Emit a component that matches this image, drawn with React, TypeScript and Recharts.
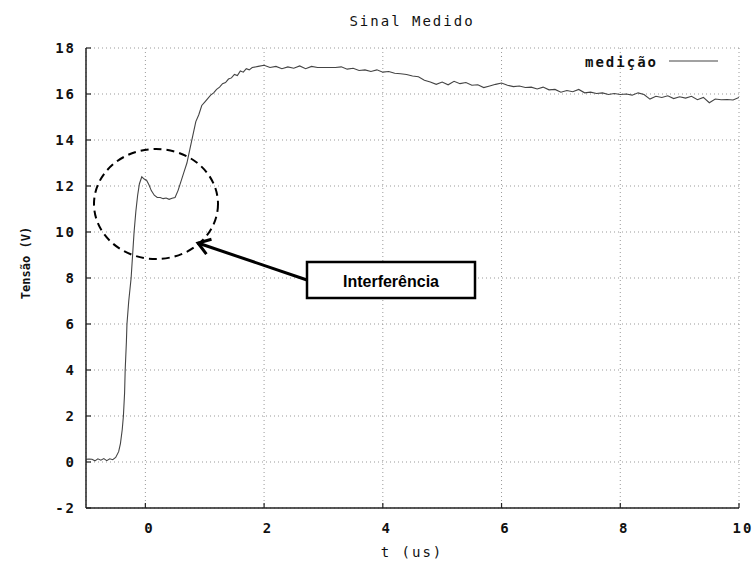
import { LineChart, Line, XAxis, YAxis, CartesianGrid } from 'recharts'

const times = [
  -1.0, -0.95, -0.9, -0.85, -0.8, -0.75, -0.7, -0.65, -0.6, -0.55, -0.5, -0.45,
  -0.42, -0.39, -0.37, -0.35, -0.34, -0.32, -0.31, -0.28, -0.24, -0.21, -0.19, -0.16,
  -0.13, -0.1, -0.06, -0.02, 0.02, 0.06, 0.1, 0.15, 0.2, 0.25, 0.3, 0.35, 0.4, 0.45,
  0.5, 0.55, 0.6, 0.65, 0.7, 0.75, 0.8, 0.85, 0.9, 0.95, 1.0, 1.05, 1.1, 1.15, 1.2,
  1.25, 1.3, 1.35, 1.4, 1.45, 1.5, 1.55, 1.6, 1.65, 1.7, 1.75, 1.8, 1.9, 2.0,
  2.1, 2.2, 2.3, 2.4, 2.5, 2.6, 2.7, 2.8, 2.9, 3.0, 3.1, 3.2, 3.3, 3.4, 3.5, 3.6,
  3.7, 3.8, 3.9, 4.0, 4.1, 4.2, 4.3, 4.4, 4.5, 4.6, 4.7, 4.8, 4.9, 5.0, 5.1, 5.2,
  5.3, 5.4, 5.5, 5.6, 5.7, 5.8, 5.9, 6.0, 6.1, 6.2, 6.3, 6.4, 6.5, 6.6, 6.7, 6.8,
  6.9, 7.0, 7.1, 7.2, 7.3, 7.4, 7.5, 7.6, 7.7, 7.8, 7.9, 8.0, 8.1, 8.2, 8.3, 8.4,
  8.5, 8.6, 8.7, 8.8, 8.9, 9.0, 9.1, 9.2, 9.3, 9.4, 9.5, 9.6, 9.7, 9.8, 9.9, 10.0,
]

const volts = [
  0.12, 0.13, 0.12, 0.05, 0.14, 0.08, 0.15, 0.06, 0.14, 0.1, 0.2, 0.45,
  0.8, 1.4, 2.0, 3.0, 4.0, 5.2, 6.0, 7.0, 8.0, 9.2, 10.0, 10.9,
  11.6, 12.1, 12.4, 12.3, 12.25, 12.05, 11.8, 11.6, 11.5, 11.5, 11.45, 11.48, 11.42, 11.47,
  11.5, 11.8, 12.2, 12.6, 13.0, 13.6, 14.2, 14.8, 15.1, 15.5, 15.65, 15.8, 15.95, 16.05, 16.2,
  16.3, 16.45, 16.5, 16.65, 16.7, 16.85, 16.8, 17.0, 16.95, 17.1, 17.05, 17.15, 17.2, 17.25,
  17.15, 17.2, 17.1, 17.18, 17.12, 17.22, 17.1, 17.2, 17.15, 17.15, 17.15, 17.15, 17.18, 17.08, 17.12, 17.02,
  17.05, 16.98, 17.05, 16.95, 16.98, 16.9, 16.88, 16.85, 16.78, 16.75, 16.6, 16.52, 16.42, 16.52, 16.4, 16.55,
  16.45, 16.5, 16.38, 16.4, 16.28, 16.35, 16.42, 16.48, 16.38, 16.32, 16.35, 16.28, 16.3, 16.22, 16.3, 16.18,
  16.2, 16.08, 16.15, 16.1, 16.2, 16.05, 16.08, 16.02, 16.05, 15.98, 16.02, 15.98, 16.0, 15.95, 16.05, 15.98,
  15.78, 15.9, 15.85, 15.92, 15.8, 15.88, 15.82, 15.9, 15.75, 15.85, 15.62, 15.78, 15.75, 15.76, 15.74, 15.85,
]

const xTicks = [-1, 0, 2, 4, 6, 8, 10]
const yTicks = [-2, 0, 2, 4, 6, 8, 10, 12, 14, 16, 18]

const data = times.map((t, i) => ({ t, v: volts[i] }))

const mono = '"DejaVu Sans Mono", monospace'
const ink = '#222'

const LeftTick = ({ x, y, payload }: any) => (
  <g>
    <line x1={x} y1={y} x2={x + 5} y2={y} stroke={ink} strokeWidth={1.2} />
    <text x={x - 10} y={y + 5} textAnchor="end" fontFamily={mono} fontSize={14} fontWeight="bold" letterSpacing={2} fill="#111">
      {payload.value}
    </text>
  </g>
)

const RightTick = ({ x, y }: any) => (
  <line x1={x} y1={y} x2={x - 5} y2={y} stroke={ink} strokeWidth={1.2} />
)

const BottomTick = ({ x, y, payload }: any) =>
  payload.value === -1 ? null : (
    <g>
      <line x1={x} y1={y} x2={x} y2={y - 5} stroke={ink} strokeWidth={1.2} />
      <text x={x + 4} y={y + 25} textAnchor="middle" fontFamily={mono} fontSize={14} fontWeight="bold" letterSpacing={2} fill="#111">
        {payload.value}
      </text>
    </g>
  )

const TopTick = ({ x, y, payload }: any) =>
  payload.value === -1 ? null : (
    <line x1={x} y1={y} x2={x} y2={y + 5} stroke={ink} strokeWidth={1.2} />
  )

// arrow from the box to the circle
const tail = { x: 307, y: 280 }
const tip = { x: 198, y: 243 }
const ang = Math.atan2(tail.y - tip.y, tail.x - tip.x)
const arm = 14
const headA = { x: tip.x + arm * Math.cos(ang - 0.6), y: tip.y + arm * Math.sin(ang - 0.6) }
const headB = { x: tip.x + arm * Math.cos(ang + 0.6), y: tip.y + arm * Math.sin(ang + 0.6) }

export default function App() {
  return (
    <div style={{ position: 'absolute', left: 0, top: 0, width: 755, height: 561, background: '#fff' }}>
      <LineChart width={755} height={561} data={data} margin={{ top: 48, right: 16, left: 26, bottom: 23 }}>
        <CartesianGrid stroke="#999" strokeDasharray="1 3" />
        <XAxis
          dataKey="t"
          type="number"
          domain={[-1, 10]}
          ticks={xTicks}
          allowDataOverflow
          height={30}
          tickSize={0}
          tickMargin={0}
          tickLine={false}
          axisLine={{ stroke: ink, strokeWidth: 1.5 }}
          tick={<BottomTick />}
        />
        <XAxis
          xAxisId="top"
          dataKey="t"
          type="number"
          orientation="top"
          domain={[-1, 10]}
          ticks={xTicks}
          allowDataOverflow
          height={0}
          tickSize={0}
          tickMargin={0}
          tickLine={false}
          axisLine={{ stroke: ink, strokeWidth: 1.5 }}
          tick={<TopTick />}
        />
        <YAxis
          type="number"
          domain={[-2, 18]}
          ticks={yTicks}
          allowDataOverflow
          width={60}
          tickSize={0}
          tickMargin={0}
          tickLine={false}
          axisLine={{ stroke: ink, strokeWidth: 1.5 }}
          tick={<LeftTick />}
        />
        <YAxis
          yAxisId="right"
          type="number"
          orientation="right"
          domain={[-2, 18]}
          ticks={yTicks}
          allowDataOverflow
          width={0}
          tickSize={0}
          tickMargin={0}
          tickLine={false}
          axisLine={{ stroke: ink, strokeWidth: 1.5 }}
          tick={<RightTick />}
        />
        <Line
          type="linear"
          dataKey="v"
          stroke="#444"
          strokeWidth={1.1}
          dot={false}
          isAnimationActive={false}
        />
      </LineChart>
      <svg width={755} height={561} style={{ position: 'absolute', left: 0, top: 0, pointerEvents: 'none' }}>
        <text x={412} y={26} textAnchor="middle" fontFamily={mono} fontSize={14} letterSpacing={2} fill="#111">
          Sinal Medido
        </text>
        <text x={412} y={557} textAnchor="middle" fontFamily={mono} fontSize={14} letterSpacing={2} fill="#111">
          t (us)
        </text>
        <text
          x={0}
          y={0}
          transform="translate(30,263) rotate(-90)"
          textAnchor="middle"
          fontFamily={mono}
          fontSize={12}
          fontWeight="bold"
          fill="#111"
        >
          Tensão (V)
        </text>
        <text x={658} y={67} textAnchor="end" fontFamily={mono} fontSize={14} fontWeight="bold" letterSpacing={2} fill="#111">
          medição
        </text>
        <line x1={669} y1={61} x2={718} y2={61} stroke="#444" strokeWidth={1.1} />

        <ellipse cx={156} cy={204} rx={62} ry={55} fill="none" stroke="#000" strokeWidth={2} strokeDasharray="8 5" />
        <line x1={tail.x} y1={tail.y} x2={tip.x} y2={tip.y} stroke="#000" strokeWidth={3} />
        <polyline
          points={`${headA.x},${headA.y} ${tip.x},${tip.y} ${headB.x},${headB.y}`}
          fill="none"
          stroke="#000"
          strokeWidth={3}
        />
        <rect x={307} y={262} width={168} height={36} fill="#fff" stroke="#000" strokeWidth={2.5} />
        <text x={391} y={287} textAnchor="middle" fontFamily='"Liberation Sans", Arial, sans-serif' fontSize={16} fontWeight="bold" fill="#000">
          Interferência
        </text>
      </svg>
    </div>
  )
}
